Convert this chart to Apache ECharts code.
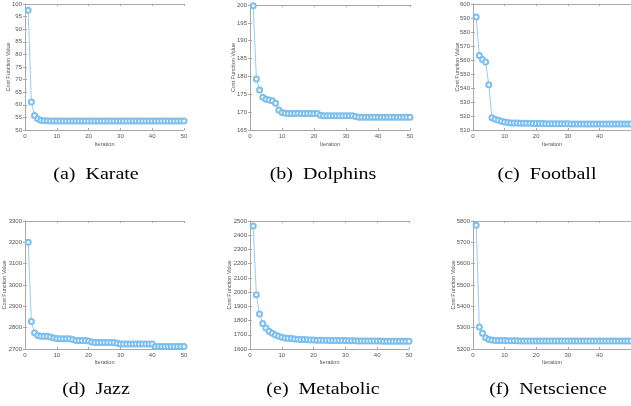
<!DOCTYPE html>
<html>
<head>
<meta charset="utf-8">
<script src="https://cdn.jsdelivr.net/npm/echarts@6/dist/echarts.min.js"></script>
<style>
  html, body { margin: 0; padding: 0; background: #fff; }
  #canvas { width: 631px; height: 406px; }
</style>
</head>
<body>
<div id="canvas"></div>
<script>
var iterations = [];
for (var i = 1; i <= 50; i++) iterations.push(i);

var karate = [97.5, 61.1, 55.8, 54.5, 53.9, 53.7, 53.65, 53.6, 53.6, 53.6,
  53.6, 53.6, 53.6, 53.6, 53.6, 53.6, 53.6, 53.6, 53.6, 53.6,
  53.6, 53.6, 53.6, 53.6, 53.6, 53.6, 53.6, 53.6, 53.6, 53.6,
  53.6, 53.6, 53.6, 53.6, 53.6, 53.6, 53.6, 53.6, 53.6, 53.6,
  53.6, 53.6, 53.6, 53.6, 53.6, 53.6, 53.6, 53.6, 53.6, 53.6];

var dolphins = [199.8, 179.3, 176.2, 174.2, 173.6, 173.4, 173.2, 172.5, 170.6, 169.9,
  169.7, 169.6, 169.6, 169.65, 169.7, 169.6, 169.6, 169.6, 169.6, 169.6,
  169.6, 169.1, 169.0, 169.0, 169.0, 169.0, 169.0, 169.0, 169.0, 169.0,
  169.0, 169.0, 168.8, 168.6, 168.6, 168.6, 168.6, 168.6, 168.6, 168.6,
  168.6, 168.6, 168.6, 168.6, 168.6, 168.6, 168.6, 168.6, 168.6, 168.6];

var football = [590.7, 563.2, 560.4, 558.5, 542.3, 518.8, 517.6, 516.9, 516.2, 515.7,
  515.3, 515.0, 515.0, 515.0, 514.9, 514.8, 514.8, 514.8, 514.7, 514.7,
  514.6, 514.6, 514.5, 514.5, 514.5, 514.4, 514.4, 514.4, 514.4, 514.4,
  514.3, 514.3, 514.3, 514.3, 514.3, 514.3, 514.3, 514.3, 514.3, 514.3,
  514.3, 514.2, 514.2, 514.2, 514.2, 514.2, 514.2, 514.2, 514.2, 514.2];

var jazz = [3200, 2829, 2776, 2763, 2760, 2760, 2760, 2756, 2752, 2749,
  2748, 2748, 2748, 2748, 2745, 2740, 2740, 2740, 2740, 2737,
  2733, 2730, 2730, 2730, 2730, 2730, 2730, 2730, 2727, 2723,
  2723, 2723, 2723, 2723, 2723, 2723, 2723, 2723, 2723, 2723,
  2712, 2712, 2712, 2712, 2712, 2712, 2712, 2712, 2712, 2712];

var metabolic = [2465, 1982, 1846, 1780, 1748, 1724, 1710, 1698, 1689, 1682,
  1677, 1675, 1673, 1670, 1668, 1667, 1666, 1665, 1664, 1663,
  1662, 1662, 1661, 1661, 1660, 1660, 1660, 1659, 1659, 1659,
  1658, 1658, 1658, 1657, 1657, 1657, 1657, 1656, 1656, 1656,
  1656, 1655, 1655, 1655, 1655, 1655, 1654, 1654, 1654, 1654];

var netscience = [5780, 5303, 5274, 5253, 5245, 5242, 5240, 5240, 5240, 5240,
  5239, 5239, 5239, 5239, 5238, 5238, 5238, 5238, 5238, 5238,
  5238, 5238, 5238, 5237, 5237, 5237, 5237, 5237, 5237, 5237,
  5237, 5237, 5237, 5237, 5237, 5237, 5237, 5237, 5237, 5237,
  5237, 5237, 5237, 5237, 5237, 5237, 5237, 5237, 5237, 5237];

var captions = ['(a)  Karate', '(b)  Dolphins', '(c)  Football',
  '(d)  Jazz', '(e)  Metabolic', '(f)  Netscience'];
var seriesData = [karate, dolphins, football, jazz, metabolic, netscience];
var yMin = [50, 165, 510, 2700, 1600, 5200];
var yMax = [100, 200, 600, 3300, 2500, 5800];
var yStep = [5, 5, 10, 100, 100, 100];

// panel layout
var panels = [
  { left: 25, top: 4, width: 159, height: 126, yGap: 14, xGap: 11, cx: 96, cy: 175 },
  { left: 250, top: 5, width: 160, height: 125, yGap: 14, xGap: 11, cx: 323, cy: 175 },
  { left: 473, top: 4, width: 159, height: 126, yGap: 13, xGap: 11, cx: 547, cy: 175 },
  { left: 25, top: 221, width: 159, height: 128, yGap: 18, xGap: 10, cx: 96, cy: 390 },
  { left: 250, top: 221, width: 159, height: 128, yGap: 18, xGap: 10, cx: 323, cy: 390 },
  { left: 473, top: 221, width: 159, height: 128, yGap: 17, xGap: 10, cx: 548, cy: 390 }
];

var axisColor = '#a8a8a8';
var labelColor = '#555';
var lineColor = '#7cbfee';

var grids = [], xAxes = [], yAxes = [], series = [], graphics = [];

panels.forEach(function (p, k) {
  grids.push({ left: p.left, top: p.top, width: p.width, height: p.height, containLabel: false });
  var clipped = (k === 2 || k === 5);
  var common = {
    axisLine: { show: true, lineStyle: { color: axisColor, width: 1 } },
    axisTick: { show: true, inside: true, length: 2, lineStyle: { color: axisColor } },
    splitLine: { show: false }
  };
  xAxes.push(Object.assign({
    type: 'value', gridIndex: k, position: 'bottom', min: 0, max: 50, interval: 10,
    name: 'Iteration', nameLocation: 'middle', nameGap: p.xGap, nameMoveOverlap: false,
    nameTextStyle: { fontSize: 5.5, color: labelColor, fontFamily: 'Liberation Sans' },
    axisLabel: { fontSize: 6, color: labelColor, margin: 3, fontFamily: 'Liberation Sans', showMaxLabel: !clipped }
  }, common));
  xAxes.push(Object.assign({
    type: 'value', gridIndex: k, position: 'top', min: 0, max: 50, interval: 10,
    axisLabel: { show: false }
  }, common));
  yAxes.push(Object.assign({
    type: 'value', gridIndex: k, position: 'left', min: yMin[k], max: yMax[k], interval: yStep[k],
    name: 'Cost Function Value', nameLocation: 'middle', nameGap: p.yGap, nameRotate: 90,
    nameMoveOverlap: false,
    nameTextStyle: { fontSize: 5.5, color: labelColor, fontFamily: 'Liberation Sans' },
    axisLabel: {
      fontSize: 6, color: labelColor, margin: 3, fontFamily: 'Liberation Sans',
      formatter: function (v) { return String(v); }
    }
  }, common));
  yAxes.push(Object.assign({
    type: 'value', gridIndex: k, position: 'right', min: yMin[k], max: yMax[k], interval: yStep[k],
    axisLabel: { show: false }
  }, common));

  series.push({
    type: 'line',
    xAxisIndex: 2 * k,
    yAxisIndex: 2 * k,
    data: iterations.map(function (x, i) { return [x, seriesData[k][i]]; }),
    symbol: 'emptyCircle',
    symbolSize: 5,
    lineStyle: { color: lineColor, width: 0.8 },
    itemStyle: { color: lineColor, borderColor: lineColor, borderWidth: 0.5 },
    animation: false
  });

  graphics.push({
    type: 'text',
    x: p.cx, y: p.cy,
    scaleX: 1.25,
    style: {
      text: captions[k], fill: '#000', fontSize: 16,
      fontFamily: 'Liberation Serif', textAlign: 'center', textVerticalAlign: 'middle'
    }
  });
});

var myChart = echarts.init(document.getElementById('canvas'));
myChart.setOption({
  animation: false,
  backgroundColor: '#fff',
  grid: grids,
  xAxis: xAxes,
  yAxis: yAxes,
  series: series,
  graphic: graphics
});
</script>
</body>
</html>
